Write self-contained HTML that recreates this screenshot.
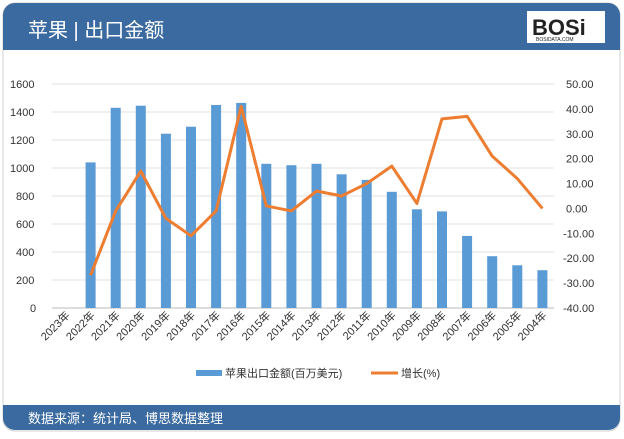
<!DOCTYPE html>
<html><head><meta charset="utf-8"><style>
body{margin:0;width:624px;height:434px;background:#fff;overflow:hidden;font-family:"Liberation Sans","Noto Sans CJK SC",sans-serif}
</style></head><body>
<svg width="624" height="434" xmlns="http://www.w3.org/2000/svg" font-family="Liberation Sans, Noto Sans CJK SC, sans-serif">
<rect x="3" y="3" width="617" height="428" rx="12" fill="#fff" stroke="#d0d0d0"/>
<path d="M3 50 V15 A12 12 0 0 1 15 3 H608 A12 12 0 0 1 620 15 V50 Z" fill="#3a6aa0"/>
<text x="28" y="37" font-size="20" fill="#fff">苹果 | 出口金额</text>
<rect x="527" y="11" width="78" height="32" fill="#fff"/>
<text x="532" y="35" font-size="22" font-weight="bold" fill="#222">BOSi</text>
<text x="536" y="41" font-size="5" fill="#222">BOSIDATA.COM</text>
<path d="M3 405 H620 V418 A12 12 0 0 1 608 430 H15 A12 12 0 0 1 3 418 Z" fill="#3a6aa0"/>
<text x="28" y="423" font-size="13" fill="#fff">数据来源：统计局、博思数据整理</text>
<g stroke="#e0e0e0" stroke-width="1">
<line x1="52" x2="554" y1="84" y2="84"/><line x1="52" x2="554" y1="112" y2="112"/><line x1="52" x2="554" y1="140" y2="140"/><line x1="52" x2="554" y1="168" y2="168"/><line x1="52" x2="554" y1="196" y2="196"/><line x1="52" x2="554" y1="224" y2="224"/><line x1="52" x2="554" y1="252" y2="252"/><line x1="52" x2="554" y1="280" y2="280"/>
</g>
<line x1="52" x2="554" y1="308" y2="308" stroke="#bbb"/>
<g font-size="11" fill="#333">
<text x="10" y="88">1600</text><text x="10" y="116">1400</text><text x="10" y="144">1200</text><text x="10" y="172">1000</text><text x="16" y="200">800</text><text x="16" y="228">600</text><text x="16" y="256">400</text><text x="16" y="284">200</text><text x="30" y="312">0</text>
</g>
<g id="rl" font-size="11" fill="#333"></g>
<g id="bars" fill="#5b9bd5"></g>
<polyline id="line" fill="none" stroke="#ed7d31" stroke-width="3" stroke-linejoin="round"/>
<g id="xl" font-size="11" fill="#333"></g>
<rect x="196" y="370" width="26" height="6" fill="#5b9bd5"/>
<text x="225" y="377" font-size="11" fill="#333">苹果出口金额(百万美元)</text>
<line x1="371" x2="398" y1="373" y2="373" stroke="#ed7d31" stroke-width="3"/>
<text x="401" y="377" font-size="11" fill="#333">增长(%)</text>
<script>
var v=[0,1040,1430,1445,1245,1295,1450,1465,1030,1020,1030,955,915,830,705,690,515,370,305,270];
var g=[null,-26.8,-1,15,-4,-11,-1,41,1,-1,7,5,10,17,2,36,37,21,12,0];
var ns="http://www.w3.org/2000/svg",b=document.getElementById('bars'),xl=document.getElementById('xl'),rl=document.getElementById('rl'),pts=[];
var k=224/90;
for(var j=0;j<10;j++){var val=50-10*j;var t=document.createElementNS(ns,'text');t.setAttribute('x',val<0?563:566);t.setAttribute('y',88+j*10*k);t.textContent=val.toFixed(2);rl.appendChild(t);}
for(var i=0;i<20;i++){var c=65.5+25.1*i;
if(v[i]>0){var r=document.createElementNS(ns,'rect');var h=v[i]*0.14;r.setAttribute('x',c-5);r.setAttribute('y',308-h);r.setAttribute('width',10);r.setAttribute('height',h);b.appendChild(r);}
if(g[i]!==null)pts.push(c+','+(84+(50-g[i])*k));
var t=document.createElementNS(ns,'text');t.setAttribute('transform','translate('+(c+5)+',316) rotate(-45)');t.setAttribute('text-anchor','end');t.textContent=(2023-i)+'年';xl.appendChild(t);}
document.getElementById('line').setAttribute('points',pts.join(' '));
</script>
</svg>
</body></html>
